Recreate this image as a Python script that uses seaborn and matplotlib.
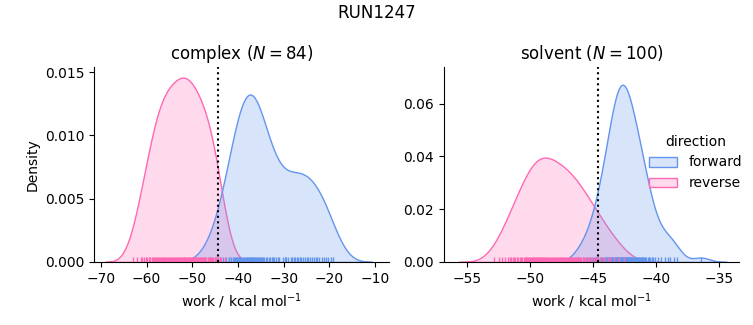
import pandas as pd
import seaborn as sns
import matplotlib
matplotlib.use("Agg")
import matplotlib.pyplot as plt

# Nonequilibrium work values (kcal/mol) per phase and direction
complex_forward = [
    -46.0, -45.0,
    -43.9, -43.2, -42.5, -42.0,
    -41.9, -41.5, -41.1, -40.8, -40.7, -40.5, -40.3, -40.1,
    -39.9, -39.7, -39.5, -39.3, -39.1, -38.9, -38.7, -38.5, -38.3, -38.1,
    -37.95, -37.8, -37.65, -37.5, -37.35, -37.2, -37.05, -36.9, -36.75, -36.6, -36.45, -36.3,
    -36.1, -35.9, -35.7, -35.5, -35.3, -35.1, -34.9, -34.7, -34.5, -34.3,
    -33.9, -33.6, -33.3, -32.9, -32.6, -32.3, -32.05,
    -31.7, -31.3, -30.9, -30.1,
    -29.8, -29.5, -29.1, -28.4, -28.1,
    -27.8, -27.4, -27.1, -26.8, -26.5, -26.2,
    -25.7, -25.3, -24.9, -24.6, -24.2,
    -23.8, -23.4, -23.0, -22.6, -22.2,
    -21.7, -21.2, -20.7, -20.3,
    -19.6, -19.1,
]
complex_reverse = [
    -62.9, -62.0, -61.3,
    -60.9, -60.5, -60.1, -59.8, -59.5, -59.2,
    -58.9, -58.6, -58.4, -58.1, -57.9, -57.6, -57.4, -57.2, -57.05,
    -56.9, -56.7, -56.5, -56.3, -56.1, -55.9, -55.7, -55.5, -55.3, -55.1,
    -54.9, -54.7, -54.5, -54.3, -54.1, -53.9, -53.7, -53.5, -53.3, -53.1,
    -52.95, -52.8, -52.6, -52.45, -52.3, -52.1, -51.9, -51.75, -51.6, -51.4, -51.2,
    -50.95, -50.8, -50.6, -50.45, -50.3, -50.1, -49.9, -49.75, -49.6, -49.4, -49.2,
    -48.9, -48.7, -48.5, -48.3, -48.1, -47.9, -47.7, -47.5, -47.3, -47.1,
    -46.9, -46.6, -46.4, -46.1, -45.9, -45.6, -45.4, -45.1,
    -44.9, -44.6, -44.3, -44.0, -43.6,
    -42.9,
]
solvent_forward = [
    -46.2,
    -45.8, -45.5, -45.2,
    -44.95, -44.85, -44.75, -44.65, -44.55, -44.45, -44.35, -44.25, -44.15, -44.05,
    -43.97, -43.92, -43.86, -43.81, -43.76, -43.70, -43.65, -43.61, -43.56, -43.50, -43.46,
    -43.41, -43.37, -43.32, -43.27, -43.22, -43.18, -43.14, -43.10, -43.07, -43.04, -43.01,
    -42.98, -42.95, -42.91, -42.88, -42.84, -42.81, -42.77, -42.74, -42.70, -42.67, -42.63,
    -42.60, -42.56, -42.53, -42.49, -42.46, -42.42, -42.38, -42.34, -42.30, -42.26, -42.22,
    -42.18, -42.14, -42.10, -42.07, -42.04, -42.01,
    -41.97, -41.92, -41.87, -41.82, -41.76, -41.71, -41.66, -41.60, -41.55, -41.49, -41.43,
    -41.37, -41.31, -41.25, -41.19, -41.13, -41.08, -41.04, -41.01,
    -40.94, -40.85, -40.76, -40.66, -40.55, -40.44, -40.32, -40.20, -40.08,
    -39.85, -39.6, -39.3, -39.05,
    -38.9, -38.6, -38.3,
    -36.4,
]
solvent_reverse = [
    -52.8,
    -52.4, -52.2, -51.95, -51.75, -51.55,
    -51.45, -51.35, -51.25, -51.15, -51.0, -50.9, -50.8, -50.7, -50.6,
    -50.47, -50.4, -50.33, -50.26, -50.19, -50.12, -50.05, -49.98, -49.91, -49.84, -49.77,
    -49.7, -49.63, -49.56,
    -49.48, -49.42, -49.36, -49.3, -49.24, -49.18, -49.12, -49.06, -49.0, -48.94, -48.88,
    -48.82, -48.76, -48.7, -48.63, -48.56,
    -48.47, -48.4, -48.33, -48.26, -48.19, -48.12, -48.05, -47.98, -47.91, -47.84, -47.77,
    -47.7, -47.63, -47.57, -47.51,
    -47.44, -47.36, -47.28, -47.2, -47.12, -47.04, -46.96, -46.88, -46.8, -46.72, -46.64,
    -46.57, -46.51,
    -46.44, -46.35, -46.26, -46.17, -46.08, -45.99, -45.9, -45.81, -45.72, -45.63, -45.54,
    -45.42, -45.29, -45.16, -45.03, -44.9, -44.77, -44.64, -44.55,
    -44.4, -44.2, -44.0, -43.8, -43.6,
    -43.3, -42.9, -42.5,
]

phases = ["complex", "solvent"]
phase_counts = {"complex": 84, "solvent": 100}
free_energy = {"complex": -44.4, "solvent": -44.6}
palette = {"forward": "cornflowerblue", "reverse": "hotpink"}

records = []
for phase, fwd, rev in [("complex", complex_forward, complex_reverse),
                        ("solvent", solvent_forward, solvent_reverse)]:
    records += [(phase, "forward", w) for w in fwd]
    records += [(phase, "reverse", w) for w in rev]
df = pd.DataFrame(records, columns=["phase", "direction", "work"])

g = sns.displot(
    data=df, x="work", hue="direction", col="phase", kind="kde",
    fill=True, rug=True, palette=palette, hue_order=["forward", "reverse"],
    facet_kws=dict(sharex=False, sharey=False), height=3, aspect=1.1,
)

fig = g.figure
fig.set_size_inches(7.53, 3.25)
for ax, phase in zip(g.axes.flat, phases):
    ax.axvline(free_energy[phase], color="black", linestyle=":", linewidth=1.5)
    ax.set_title(f"{phase} ($N = {phase_counts[phase]}$)", fontsize=12)
    ax.set_xlabel("work / kcal mol$^{-1}$")

ax0, ax1 = g.axes.flat
ax0.set_ylabel("Density")
ax1.set_ylabel("")
ax0.set_xlim(-71.5, -6.9)
ax1.set_xlim(-56.8, -33.4)
ax0.set_ylim(0, 0.0154)
ax0.set_yticks([0.0, 0.005, 0.010, 0.015])
ax0.yaxis.set_major_formatter(matplotlib.ticker.FormatStrFormatter("%.3f"))
ax0.set_position([0.1248, 0.194, 0.392, 0.6])
ax1.set_position([0.5896, 0.194, 0.392, 0.6])

sns.move_legend(g, "center right", bbox_to_anchor=(1.002, 0.5), frameon=False)
fig.suptitle("RUN1247", fontsize=12, y=0.96, va="center")

fig.savefig("out.png", dpi=100)
